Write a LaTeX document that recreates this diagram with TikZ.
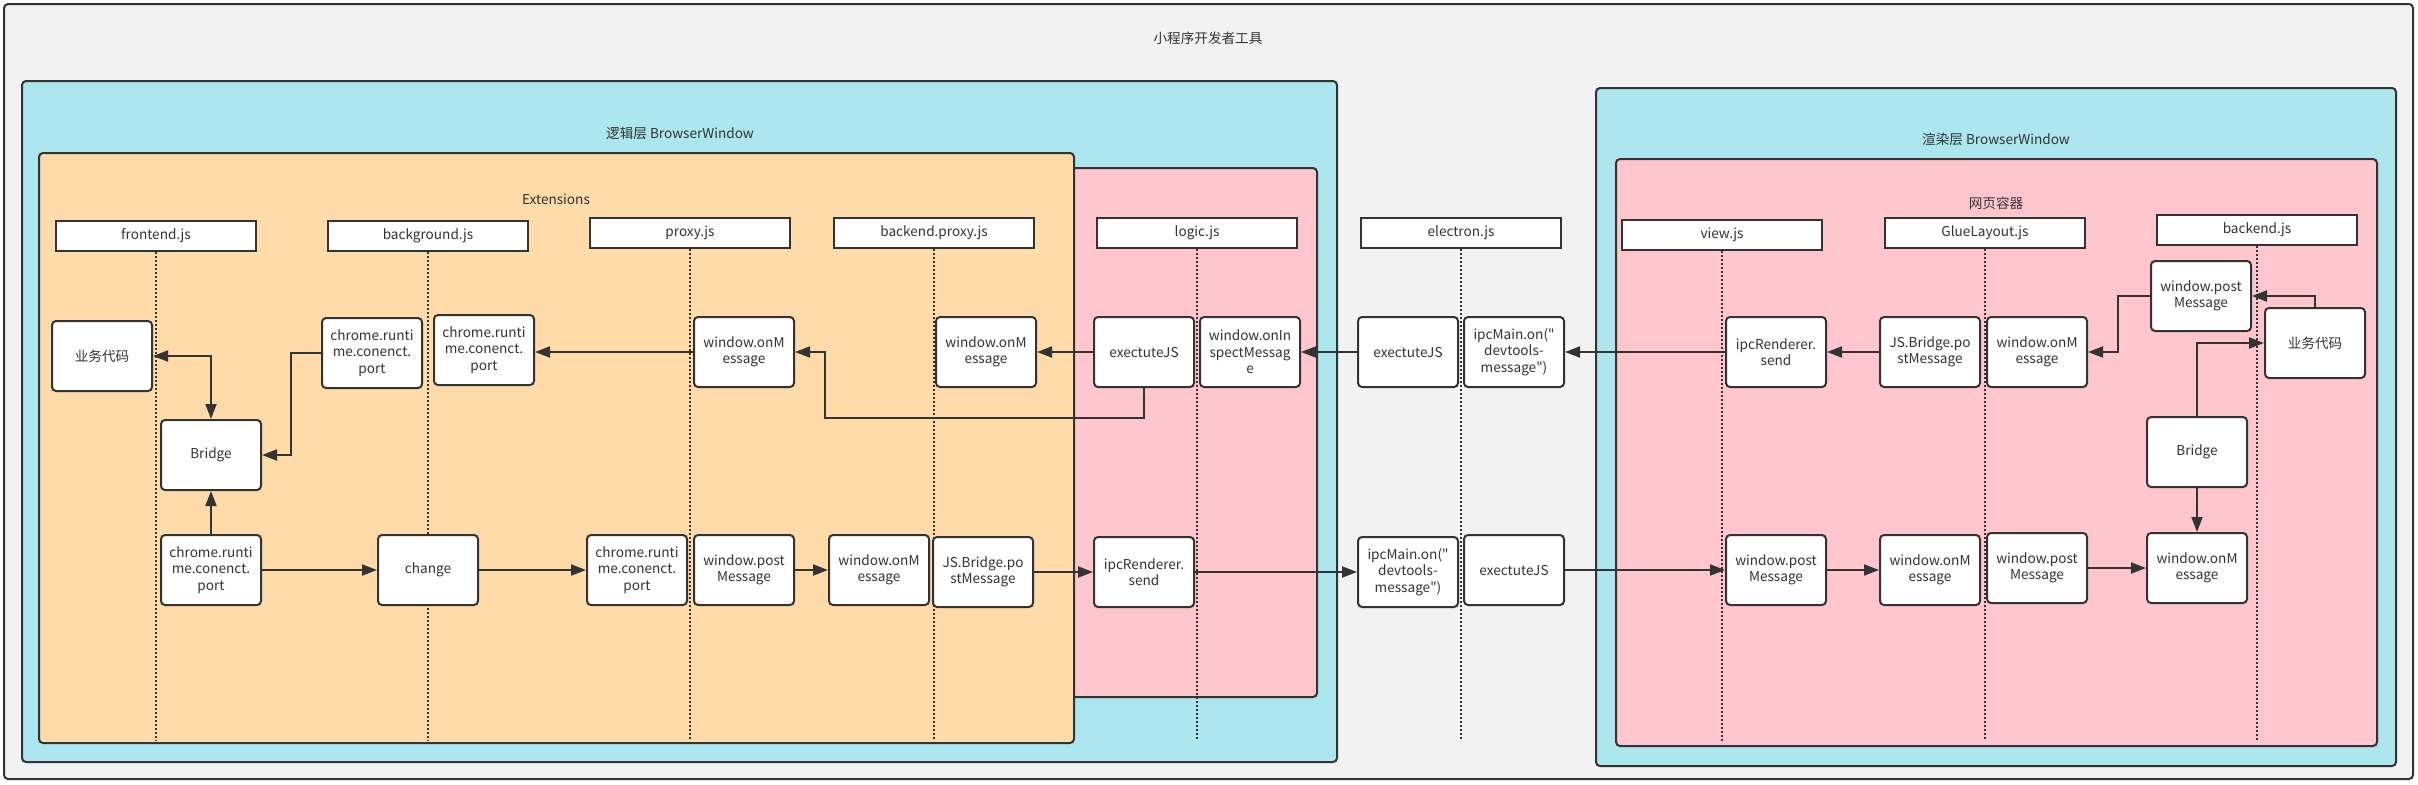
\documentclass[tikz,border=0pt]{standalone}
\usepackage{fontspec}
\newfontfamily\uifont{Noto Sans CJK SC}
\usepackage{tikz}
\usetikzlibrary{arrows.meta}
\definecolor{ink}{HTML}{333333}
\definecolor{shell}{HTML}{F2F2F2}
\definecolor{winblue}{HTML}{ACE6EE}
\definecolor{extorange}{HTML}{FEDBA8}
\definecolor{pagepink}{HTML}{FFC6CE}

\begin{document}
\begin{tikzpicture}[x=0.5pt,y=-0.5pt,font=\uifont\fontsize{6.8}{8.2}\selectfont,text=ink,
    frame/.style={draw=ink,line width=1pt,rounded corners=2pt},
    head/.style={draw=ink,fill=white,line width=1pt,minimum width=100pt,minimum height=15pt,inner sep=0pt},
    act/.style={draw=ink,fill=white,line width=1pt,rounded corners=2pt,minimum width=50pt,
                minimum height=35pt,inner sep=0pt,align=center},
    life/.style={draw=ink,line width=0.75pt,dash pattern=on 1pt off 1pt},
    flow/.style={draw=ink,line width=1pt,-{Triangle[length=7.5pt,width=5.5pt]}},
    twoway/.style={flow,{Triangle[length=7.5pt,width=5.5pt]}-{Triangle[length=7.5pt,width=5.5pt]}}]
  \useasboundingbox (0,0) rectangle (2418,784);

  % the tool window, the two BrowserWindows and what sits inside them
  \draw[frame,fill=shell] (4,4) rectangle (2413,779);
  \node (title) at (1208,38) {小程序开发者工具};
  \draw[frame,fill=winblue] (22,81) rectangle (1337,762);
  \node (logicwin) at (680,133) {逻辑层 BrowserWindow};
  \draw[frame,fill=pagepink] (1060,168) rectangle (1317,697);
  \draw[frame,fill=extorange] (39,153) rectangle (1074,743);
  \node (ext) at (556,199) {Extensions};
  \draw[frame,fill=winblue] (1596,88) rectangle (2396,766);
  \node (renderwin) at (1996,139) {渲染层 BrowserWindow};
  \draw[frame,fill=pagepink] (1616,159) rectangle (2377,746);
  \node (page) at (1996,203) {网页容器};

  % one lifeline per script
  \foreach \n/\x/\y/\t in {hFront/156/236/frontend.js, hBack/428/236/background.js,
                           hProxy/690/233/proxy.js, hBproxy/934/233/backend.proxy.js,
                           hLogic/1197/233/logic.js, hElec/1461/233/electron.js,
                           hView/1722/235/view.js, hGlue/1985/233/GlueLayout.js,
                           hBackend/2257/230/backend.js}{
    \node[head] (\n) at (\x,\y) {\t};}
  \coordinate (floor) at (0,741);
  \foreach \n in {hFront,hBack,hProxy,hBproxy,hLogic,hElec,hView,hGlue,hBackend}{
    \draw[life] (\n.south) -- (\n.south |- floor);}

  % upper row: the message coming back from the page
  \foreach \n/\x/\y/\t in {a1/102/356/{业务代码},
                           a2/372/353/{chrome.runti\\me.conenct.\\port},
                           a3/484/350/{chrome.runti\\me.conenct.\\port},
                           a4/744/352/{window.onM\\essage},
                           a5/986/352/{window.onM\\essage},
                           a6/1144/352/{exectuteJS},
                           a7/1250/352/{window.onIn\\spectMessag\\e},
                           a8/1408/352/{exectuteJS},
                           a9/1514/352/{ipcMain.on("\\devtools-\\message")},
                           a10/1776/352/{ipcRenderer.\\send},
                           a11/1930/352/{JS.Bridge.po\\stMessage},
                           a12/2037/352/{window.onM\\essage},
                           a13/2201/296/{window.post\\Message},
                           a14/2315/343/{业务代码}}{
    \node[act] (\n) at (\x,\y) {\t};}

  % lower row: the message going out to the page
  \foreach \n/\x/\y/\t in {b0/211/455/{Bridge},
                           b1/211/570/{chrome.runti\\me.conenct.\\port},
                           b2/428/570/{change},
                           b3/637/570/{chrome.runti\\me.conenct.\\port},
                           b4/744/570/{window.post\\Message},
                           b5/879/570/{window.onM\\essage},
                           b6/983/572/{JS.Bridge.po\\stMessage},
                           b7/1144/572/{ipcRenderer.\\send},
                           b8/1408/572/{ipcMain.on("\\devtools-\\message")},
                           b9/1514/570/{exectuteJS},
                           b10/1776/570/{window.post\\Message},
                           b11/1930/570/{window.onM\\essage},
                           b12/2037/568/{window.post\\Message},
                           b13/2197/568/{window.onM\\essage},
                           b14/2197/452/{Bridge}}{
    \node[act] (\n) at (\x,\y) {\t};}

  % straight hops
  \foreach \a/\b in {a4/a3,a6/a5,a8/a7,a10/a9,a11/a10}{
    \draw[flow] (\a.west) -- (\a.west -| \b.east);}
  \foreach \a/\b in {b1/b2,b2/b3,b4/b5,b6/b7,b7/b8,b9/b10,b10/b11,b12/b13}{
    \draw[flow] (\a.east) -- (\a.east -| \b.west);}
  \draw[flow] (b1.north) -- (b0.south);
  \draw[flow] (b14.south) -- (b13.north);

  % the bent ones
  \draw[twoway] (a1.east) -| (b0.north);
  \draw[flow] (a2.west) -- ++(-30,0) |- (b0.east);
  \draw[flow] (a6.south) -- ++(0,30) -| ([xshift=15pt]a4.east) -- (a4.east);
  \draw[flow] (a13.west) -- ++(-32,0) |- (a12.east);
  \draw[flow] (a14.north) |- (a13.east);
  \draw[flow] (b14.north) |- (a14.west);
\end{tikzpicture}
\end{document}
